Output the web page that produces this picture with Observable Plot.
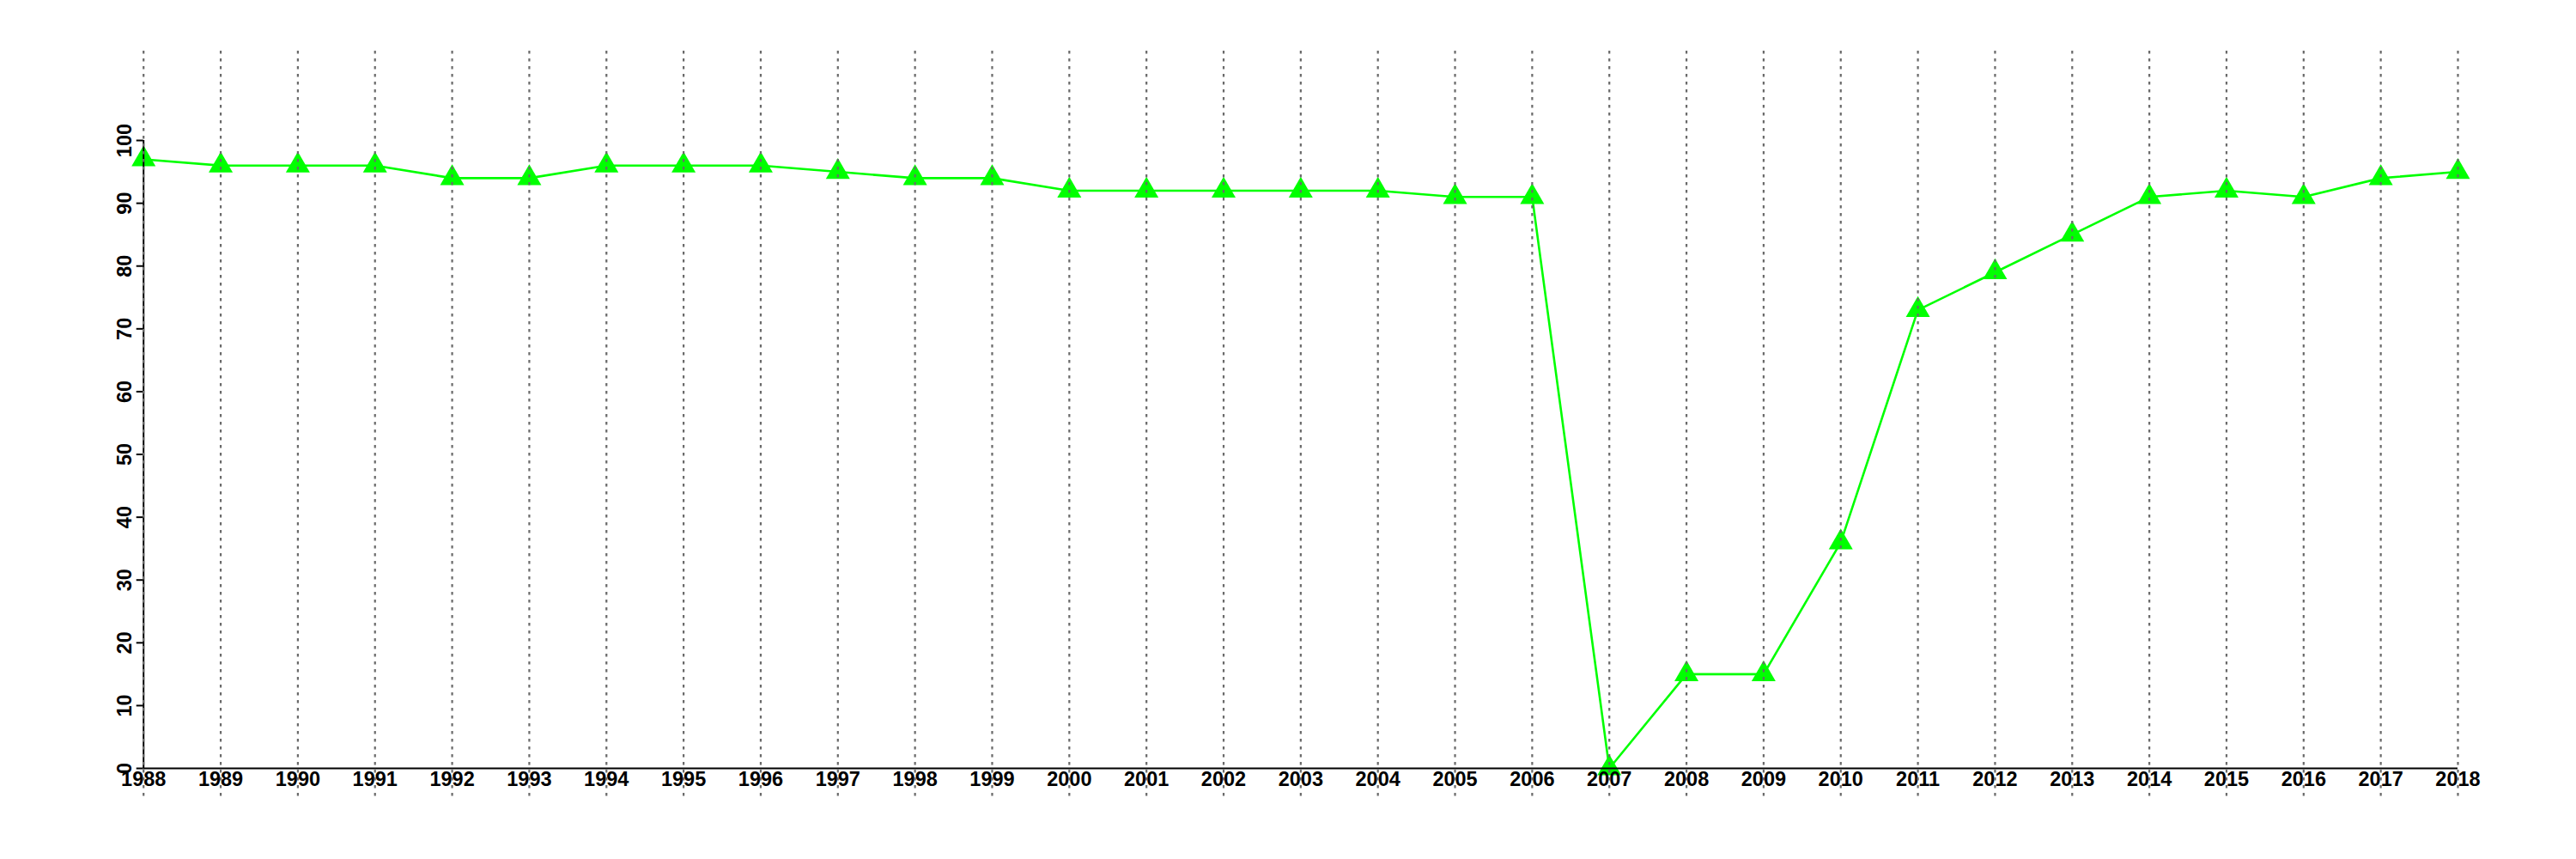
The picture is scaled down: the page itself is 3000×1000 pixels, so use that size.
<!DOCTYPE html>
<html>
<head>
<meta charset="utf-8">
<script src="https://cdn.jsdelivr.net/npm/d3@7"></script>
<script src="https://cdn.jsdelivr.net/npm/@observablehq/plot@0.6"></script>
<style>
  html, body { margin: 0; padding: 0; background: #ffffff; }
  #chart svg { display: block; }
</style>
</head>
<body>
<div id="chart"></div>
<script>
const years = [1988, 1989, 1990, 1991, 1992, 1993, 1994, 1995, 1996, 1997, 1998, 1999, 2000, 2001, 2002, 2003, 2004, 2005, 2006, 2007, 2008, 2009, 2010, 2011, 2012, 2013, 2014, 2015, 2016, 2017, 2018];
const values = [97, 96, 96, 96, 94, 94, 96, 96, 96, 95, 94, 94, 92, 92, 92, 92, 92, 91, 91, 0, 15, 15, 36, 73, 79, 85, 91, 92, 91, 94, 95];
const yTicks = [0, 10, 20, 30, 40, 50, 60, 70, 80, 90, 100];

const data = years.map((year, i) => ({year, value: values[i]}));

const font = "'Liberation Sans', Arial, Helvetica, sans-serif";

const chart = Plot.plot({
  width: 3000,
  height: 1000,
  marginLeft: 166.7,
  marginRight: 138,
  marginTop: 59,
  marginBottom: 73,
  style: {background: "#ffffff", fontFamily: font, fontSize: "23px", fontWeight: "bold", color: "#000"},
  x: {domain: [years[0], years[years.length - 1]], axis: null},
  y: {domain: [-4.51, 114.23], axis: null},
  marks: [
    Plot.line(data, {x: "year", y: "value", stroke: "#00ff00", strokeWidth: 2.6}),
    Plot.dot(data, {x: "year", y: "value", symbol: "triangle", r: 10.4, fill: "#00ff00", stroke: "none"}),
    Plot.axisY({ticks: yTicks, tickSize: 8, tickRotate: -90, tickPadding: 6, label: null, strokeWidth: 2, fontSize: 23.5, fontWeight: "bold"}),
    Plot.axisX({ticks: years, tickFormat: d => String(d), tickSize: 0, tickPadding: 4, dy: -33, label: null, fontSize: 23.5, fontWeight: "bold"}),
    Plot.ruleX([years[0]], {y1: yTicks[0], y2: yTicks[yTicks.length - 1], stroke: "#000", strokeWidth: 2}),
    Plot.ruleY([yTicks[0]], {x1: years[0], x2: years[years.length - 1], stroke: "#000", strokeWidth: 2}),
    Plot.ruleX(years, {x: d => d, stroke: "#6a6a6a", strokeWidth: 2.2, strokeDasharray: "3.5,5.5"})
  ]
});

document.getElementById("chart").appendChild(chart);
</script>
</body>
</html>
